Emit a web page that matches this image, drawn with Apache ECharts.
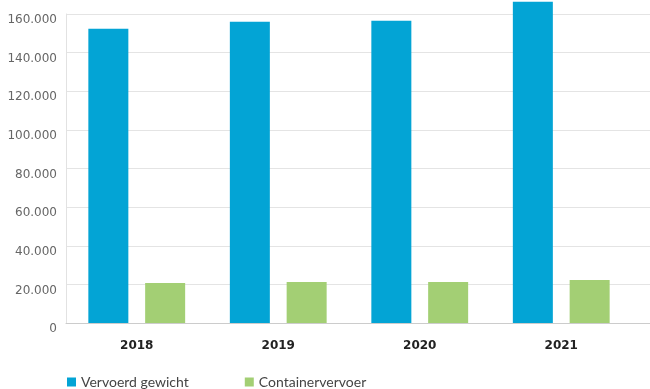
<!DOCTYPE html>
<html>
<head>
<meta charset="utf-8">
<script src="https://cdn.jsdelivr.net/npm/echarts@6/dist/echarts.min.js"></script>
<style>
  html, body { margin: 0; padding: 0; background: #fff; }
  #chart-container { width: 650px; height: 389px; }
</style>
</head>
<body>
<div id="chart-container"></div>
<script>
const years = ['2018', '2019', '2020', '2021'];
const vervoerdGewicht = [152300, 156000, 156500, 166300];
const containervervoer = [20700, 21200, 21200, 22300];
const seriesNames = ['Vervoerd gewicht', 'Containervervoer'];

const chartDom = document.getElementById('chart-container');
const myChart = echarts.init(chartDom);

function dotThousands(v) {
    return String(v).replace(/\B(?=(\d{3})+(?!\d))/g, '.');
}

const font = 'DejaVu Sans';

option = {
    animation: false,
    textStyle: { fontFamily: font },
    grid: [
        // bars
        { left: 66, right: 18, top: 14, bottom: 66 },
        // gridlines, full width
        { left: 66, right: 0, top: 14, bottom: 66 }
    ],
    legend: {
        left: 62,
        top: 370,
        itemWidth: 9,
        itemHeight: 9,
        itemGap: 56,
        icon: 'rect',
        textStyle: { fontSize: 14, color: '#444', fontFamily: 'Lato' },
        data: seriesNames
    },
    xAxis: [
        {
            type: 'category',
            gridIndex: 0,
            data: years,
            axisLine: { show: false },
            axisTick: { show: false },
            axisLabel: { margin: 17, fontSize: 12, fontWeight: 'bold', color: '#222', fontFamily: font }
        },
        {
            type: 'value',
            gridIndex: 1,
            min: 0,
            max: 1,
            axisLine: { show: true, lineStyle: { color: '#cccccc', width: 1 } },
            axisTick: { show: false },
            axisLabel: { show: false },
            splitLine: { show: false }
        }
    ],
    yAxis: [
        {
            type: 'value',
            gridIndex: 0,
            min: 0,
            max: 160000,
            interval: 20000,
            axisLine: { show: false },
            axisTick: { show: false },
            axisLabel: { show: false },
            splitLine: { show: false }
        },
        {
            type: 'value',
            gridIndex: 1,
            min: 0,
            max: 160000,
            interval: 20000,
            axisLine: { show: true, lineStyle: { color: '#e2e2e2' } },
            axisTick: { show: false },
            axisLabel: {
                margin: 9,
                fontSize: 12,
                color: '#666',
                verticalAlign: 'top',
                fontFamily: font,
                formatter: dotThousands
            },
            splitLine: { show: true, lineStyle: { color: '#e4e4e4', width: 1 } }
        }
    ],
    series: [
        {
            name: seriesNames[0],
            type: 'bar',
            xAxisIndex: 0,
            yAxisIndex: 0,
            data: vervoerdGewicht,
            barWidth: 40,
            barGap: '42%',
            clip: false,
            itemStyle: { color: '#03a4d5' }
        },
        {
            name: seriesNames[1],
            type: 'bar',
            xAxisIndex: 0,
            yAxisIndex: 0,
            data: containervervoer,
            barWidth: 40,
            clip: false,
            itemStyle: { color: '#a3cf74' }
        }
    ]
};
myChart.setOption(option);
</script>
</body>
</html>
